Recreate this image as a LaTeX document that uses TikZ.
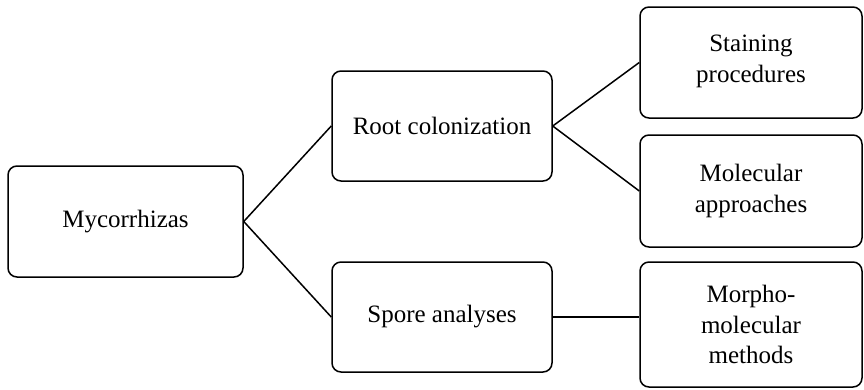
\documentclass[tikz,border=0pt]{standalone}
\usepackage{fontspec}
\setmainfont{Liberation Serif}
\begin{document}
\begin{tikzpicture}[x=1pt,y=-1pt,
  box/.style={draw, line width=1.5pt, rounded corners=9pt, align=center,
    font=\fontsize{25}{30.5}\selectfont, inner sep=0pt},
  conn/.style={line width=1.5pt}]
\useasboundingbox (0,0) rectangle (864,389);
\node[box, minimum width=235pt, minimum height=111pt] (myc) at (125.5,221.5) {Mycorrhizas};
\node[box, minimum width=220pt, minimum height=110pt] (root) at (442,126) {Root colonization};
\node[box, minimum width=220pt, minimum height=110pt] (spore) at (442,317) {Spore analyses};
\node[box, minimum width=222pt, minimum height=111pt, text depth=8pt] (stain) at (751,62.5) {Staining\\procedures};
\node[box, minimum width=222pt, minimum height=112pt] (molec) at (751,191) {Molecular\\approaches};
\node[box, minimum width=222pt, minimum height=125pt] (morph) at (751,324.5) {Morpho-\\molecular\\methods};
\draw[conn] (myc.east) -- (root.west);
\draw[conn] (myc.east) -- (spore.west);
\draw[conn] (root.east) -- (stain.west);
\draw[conn] (root.east) -- (molec.west);
\draw[conn] (spore.east) -- (spore.east -| morph.west);
\end{tikzpicture}
\end{document}
